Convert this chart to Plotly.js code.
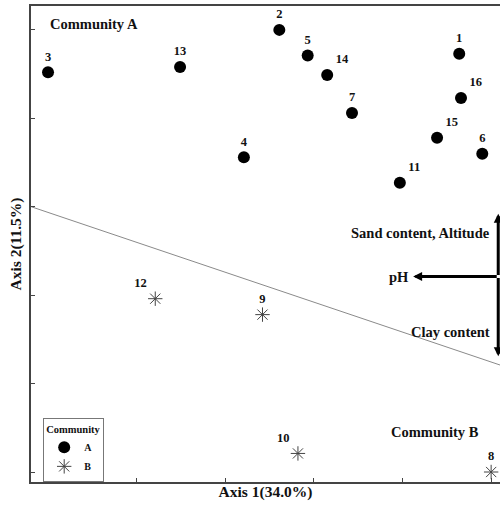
<!DOCTYPE html>
<html>
<head>
<meta charset="utf-8">
<script src="https://cdn.plot.ly/plotly-3.0.1.min.js"></script>
<style>html,body{margin:0;padding:0;background:#fff;}#chart{width:500px;height:506px;}</style>
</head>
<body>
<div id="chart"></div>
<script>
// Community A sites
const aLabels = ["1","2","3","4","5","6","7","11","13","14","15","16"];
const aX = [4.64, 2.61, 0.00, 2.21, 2.93, 4.90, 3.43, 3.97, 1.49, 3.15, 4.39, 4.66];
const aY = [4.73, 5.00, 4.52, 3.56, 4.71, 3.60, 4.06, 3.27, 4.58, 4.49, 3.78, 4.23];
// Community B sites
const bLabels = ["8","9","10","12"];
const bX = [5.00, 2.42, 2.82, 1.21];
const bY = [0.00, 1.78, 0.21, 1.96];
// separating line
const sepX = [-0.19, 5.10];
const sepY = [3.00, 1.21];
// environmental vectors
const vecOrigin = [5.08, 2.21];
const vecNames = ["Sand content, Altitude", "pH", "Clay content"];
const vecTipX = [5.08, 4.12, 5.08];
const vecTipY = [2.92, 2.21, 1.31];

const serif = "Liberation Serif, Times New Roman, serif";

const traces = [
  {x: sepX, y: sepY, mode: "lines", line: {color: "#8a8a8a", width: 1}, showlegend: false, hoverinfo: "skip"},
  {x: aX, y: aY, text: aLabels, name: "A", mode: "markers+text", type: "scatter", cliponaxis: false,
   textposition: ["top center","top center","top center","top center","top center","top center","top center","top right","top center","top right","top right","top right"],
   textfont: {family: serif, size: 12.5, color: "#111", weight: "bold"},
   marker: {symbol: "circle", size: 12, color: "#000"}},
  {x: bX, y: bY, text: bLabels, name: "B", mode: "markers+text", type: "scatter", cliponaxis: false,
   textposition: ["top center","top center","top left","top left"],
   textfont: {family: serif, size: 12.5, color: "#111", weight: "bold"},
   marker: {symbol: "asterisk-open", size: 12, color: "#444", line: {color: "#444", width: 1}}}
];

const annFont = {family: serif, size: 14.5, color: "#111"};
const annotations = [
  {x: 0.0, y: 5.07, xref: "x", yref: "y", text: "<b>Community A</b>", showarrow: false, xanchor: "left", yanchor: "middle", font: annFont},
  {x: 4.88, y: 0.45, xref: "x", yref: "y", text: "<b>Community B</b>", showarrow: false, xanchor: "right", yanchor: "middle", font: annFont}
];
const labelDX = [-0.07, -0.02, -0.07];
const labelY = [2.70, 2.21, 1.58];
for (let i = 0; i < vecNames.length; i++) {
  annotations.push({x: vecTipX[i], y: vecTipY[i], ax: vecOrigin[0], ay: vecOrigin[1], xref: "x", yref: "y", axref: "x", ayref: "y",
    showarrow: true, arrowhead: 2, arrowsize: 0.6, arrowwidth: 3, arrowcolor: "#000", text: ""});
  annotations.push({x: vecTipX[i] + labelDX[i], y: labelY[i], xref: "x", yref: "y",
    text: "<b>" + vecNames[i] + "</b>", showarrow: false, xanchor: "right", yanchor: "middle", font: annFont});
}

const titleFont = {family: serif, size: 15.5, color: "#111"};
const layout = {
  width: 500, height: 506,
  margin: {l: 31, r: 0, t: 6, b: 24},
  paper_bgcolor: "#fff", plot_bgcolor: "#fff",
  font: {family: serif, color: "#111"},
  xaxis: {range: [-0.192, 5.10], tick0: 0, dtick: 1, ticks: "inside", ticklen: 4, tickwidth: 1, tickcolor: "#444",
          showticklabels: false, showgrid: false, zeroline: false, showline: true, linecolor: "#444", linewidth: 2, mirror: true,
          title: {text: "<b>Axis 1(34.0%)</b>", font: titleFont, standoff: 3}},
  yaxis: {range: [-0.113, 5.27], tick0: 0, dtick: 1, ticks: "inside", ticklen: 4, tickwidth: 1, tickcolor: "#444",
          showticklabels: false, showgrid: false, zeroline: false, showline: true, linecolor: "#444", linewidth: 2,
          title: {text: "<b>Axis 2(11.5%)</b>", font: titleFont, standoff: 4}},
  legend: {x: 0.026, y: 0.134, xanchor: "left", yanchor: "top", bordercolor: "#777", borderwidth: 1, bgcolor: "#fff",
           title: {text: "<b>Community</b>", side: "top", font: {family: serif, size: 10.5}},
           font: {family: serif, size: 10, weight: "bold"}, itemwidth: 30, tracegroupgap: 0},
  annotations: annotations,
  showlegend: true
};

Plotly.newPlot("chart", traces, layout, {displayModeBar: false, staticPlot: true});
</script>
</body>
</html>
